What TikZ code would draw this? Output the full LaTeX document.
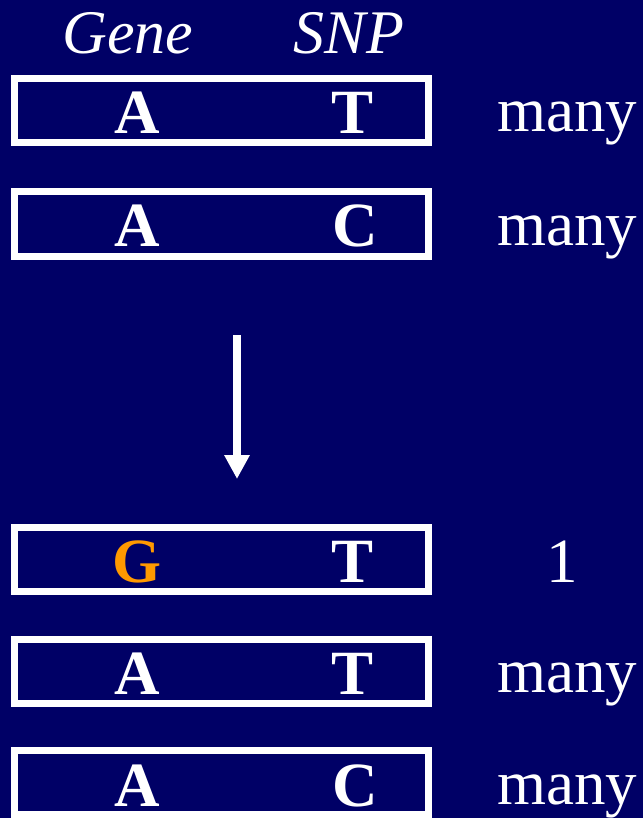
\documentclass[tikz,border=0pt]{standalone}
\usepackage{fontspec}
\setmainfont{Liberation Serif}
\usetikzlibrary{arrows.meta}
\definecolor{navy}{RGB}{0,0,102}
\definecolor{mutant}{RGB}{255,153,0}
\tikzset{%
    % style for one haplotype (a row box)
    haplo/.style={%
        draw=white,
        line width=7pt,
        minimum width=414pt,
        minimum height=64pt,
        inner sep=0pt,
    },
    % style for the alleles in a box
    allele/.style={%
        text=white,
        font=\fontsize{63}{70}\selectfont\bfseries,
        anchor=base,
        inner sep=0pt,
    },
    % style for the count beside a box
    count/.style={%
        allele,
        font=\fontsize{63}{70}\selectfont,
    },
    % style for the column heads
    colhead/.style={%
        allele,
        font=\fontsize{62}{70}\selectfont\itshape,
    },
    % style for the arrow between old and new
    selection/.style={%
        white,
        line width=8pt,
        -{Triangle[width=24pt,length=24pt]},
    },
}

\begin{document}
\begin{tikzpicture}[x=1pt,y=-1pt]
    % page and background
    \fill [navy] (0,0) rectangle (643,818);
    \useasboundingbox (0,0) rectangle (643,818);
    % column heads
    \node (gene) [colhead] at (128,54) {Gene};
    \node (snp) [colhead] at (349,54) {SNP};
    % before
    \node (h1) [haplo] at (221,111) {};
    \node (h1g) [allele] at (137,134) {A};
    \node (h1s) [allele] at (353,134) {T};
    \node (h1n) [count] at (567,132) {many};
    \node (h2) [haplo] at (221,224) {};
    \node (h2g) [allele] at (137,247) {A};
    \node (h2s) [allele] at (355,247) {C};
    \node (h2n) [count] at (567,245) {many};
    % arrow
    \coordinate (atop) at (237,335);
    \coordinate (atip) at (237,479);
    \draw [selection] (atop) -- (atip);
    % after
    \node (h3) [haplo] at (221,559) {};
    \node (h3g) [allele, text=mutant] at (137,582) {G};
    \node (h3s) [allele] at (353,582) {T};
    \node (h3n) [count] at (562,582) {1};
    \node (h4) [haplo] at (221,671) {};
    \node (h4g) [allele] at (137,694) {A};
    \node (h4s) [allele] at (353,694) {T};
    \node (h4n) [count] at (567,692) {many};
    \node (h5) [haplo] at (221,782) {};
    \node (h5g) [allele] at (137,806) {A};
    \node (h5s) [allele] at (355,806) {C};
    \node (h5n) [count] at (567,804) {many};
\end{tikzpicture}
\end{document}
